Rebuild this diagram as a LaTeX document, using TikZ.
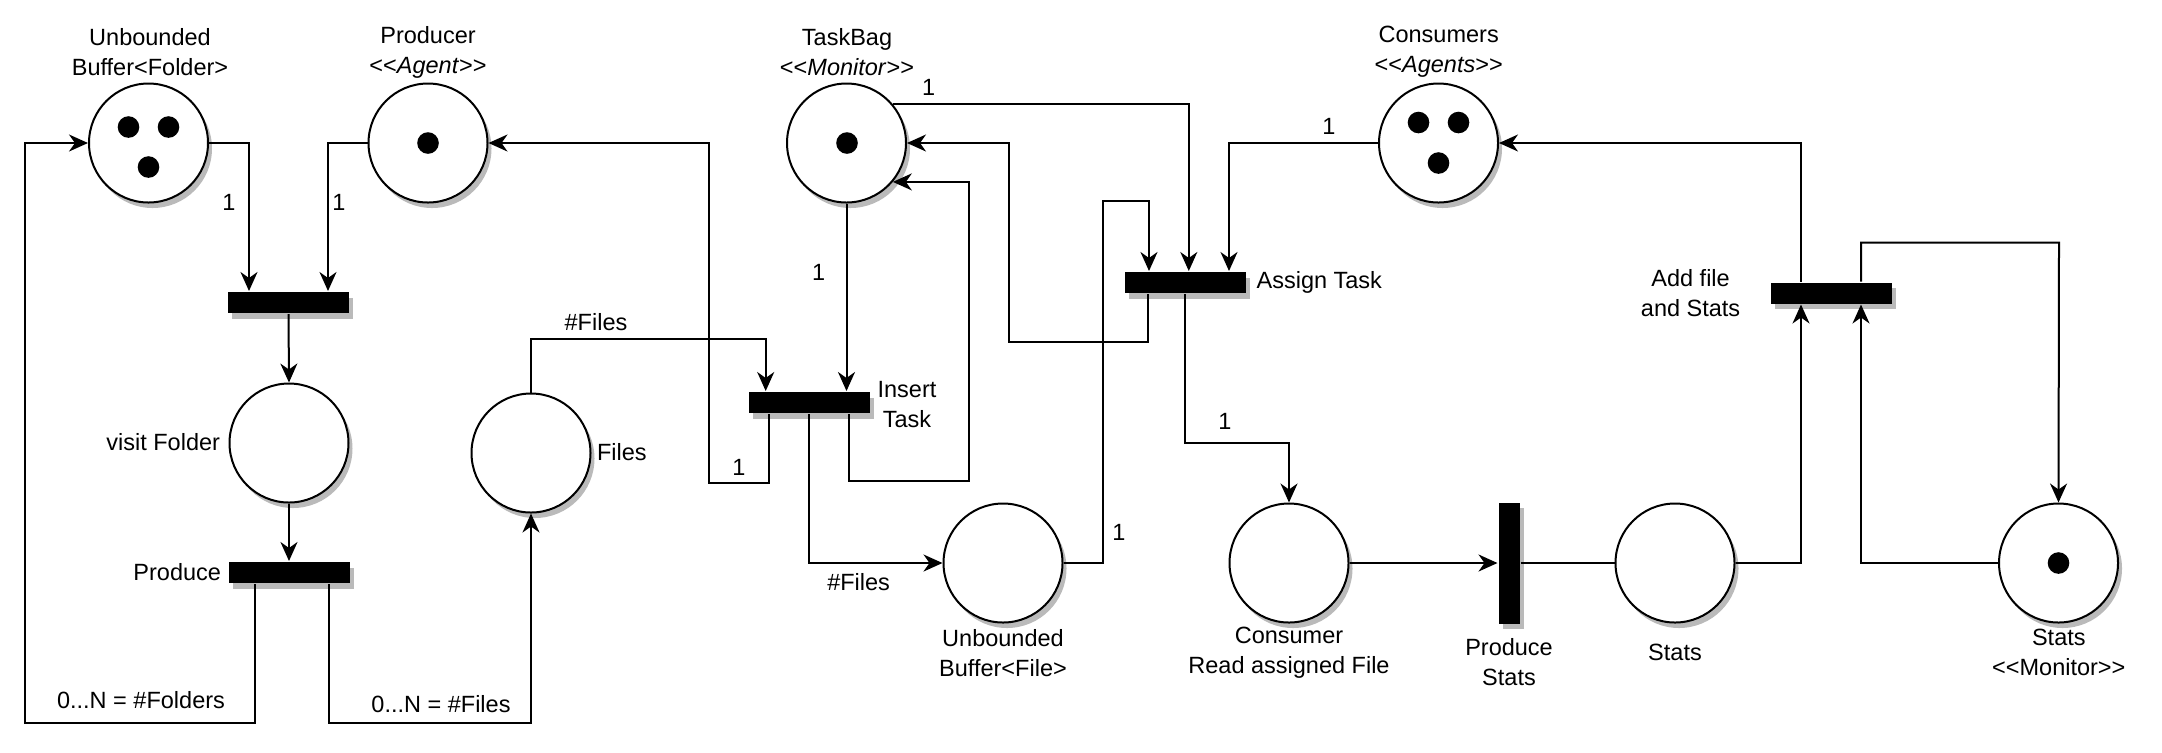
\documentclass[tikz,border=0pt]{standalone}
\usepackage{fontspec}
\setmainfont{Liberation Sans}
\usetikzlibrary{arrows.meta,shadows}
\newcommand\LLt{<\kern0pt<}
\newcommand\GGt{>\kern0pt>}
\begin{document}
\begin{tikzpicture}[x=0.5pt,y=-0.5pt, line width=1pt,
  shad/.style={drop shadow={shadow xshift=2pt, shadow yshift=-2.75pt, fill=black!27, opacity=1}},
  place/.style={circle, draw, fill=white, minimum size=59.5pt, inner sep=0pt, shad},
  trans/.style={rectangle, fill=black, minimum width=60.5pt, minimum height=10.5pt, inner sep=0pt, shad},
  vtrans/.style={trans, minimum width=10.5pt, minimum height=60.5pt},
  token/.style={circle, fill=black, minimum size=10.8pt, inner sep=0pt},
  arr/.style={-{Stealth[length=9.5pt,width=8.5pt,inset=3pt]}},
  lab/.style={font=\fontsize{11.75}{15}\selectfont, inner sep=0pt, align=center}
]
\useasboundingbox (0,0) rectangle (2162,752);
% places
\node[place] (bf) at (148.5,143) {};
\node[place] (prod) at (428,143) {};
\node[place] (visit) at (289,443) {};
\node[place] (files) at (531,453) {};
\node[place] (tb) at (846.5,143) {};
\node[place] (cons) at (1438.5,143) {};
\node[place] (bfile) at (1003,563) {};
\node[place] (consumer) at (1289,563) {};
\node[place] (stats) at (1675,563) {};
\node[place] (smon) at (2058.5,563) {};
% tokens
\node[token] (bft1) at (128.5,127) {};
\node[token] (bft2) at (168.5,127) {};
\node[token] (bft3) at (148.5,167) {};
\node[token] (prodt) at (428,143) {};
\node[token] (tbt) at (847,143) {};
\node[token] (const1) at (1418.5,122.5) {};
\node[token] (const2) at (1458.5,122.5) {};
\node[token] (const3) at (1438.5,163) {};
\node[token] (smont) at (2058.5,563) {};
% transitions
\node[trans] (t1) at (288.5,302.5) {};
\node[trans] (produce) at (289,572.5) {};
\node[trans] (insert) at (809,402.5) {};
\node[trans] (assign) at (1185,282.5) {};
\node[vtrans] (pstats) at (1509,563) {};
\node[trans] (addfile) at (1831,293) {};
% labels
\node[lab] (lbf) at (150,52) {Unbounded\\Buffer<Folder>};
\node[lab] (lprod) at (428,52) {Producer\\\LLt\textit{Agent}\GGt};
\node[lab] (ltb) at (847,52) {TaskBag\\\LLt\textit{Monitor}\GGt};
\node[lab] (lcons) at (1438.7,52) {Consumers\\\LLt\textit{Agents}\GGt};
\node[lab, anchor=east] (lvisit) at (221,442) {visit Folder};
\node[lab, anchor=east] (lproduce) at (222,572) {Produce};
\node[lab, anchor=west] (lfiles) at (596,452) {Files};
\node[lab] (linsert) at (907,404.5) {Insert\\Task};
\node[lab, anchor=west] (lassign) at (1255.6,282.7) {Assign Task};
\node[lab] (lbfile) at (1003,652.7) {Unbounded\\Buffer<File>};
\node[lab] (lconsumer) at (1289,652.7) {Consumer\\Read assigned File};
\node[lab] (lpstats) at (1509,662.2) {Produce\\Stats};
\node[lab] (lstats) at (1675,652.3) {Stats};
\node[lab] (laddfile) at (1690.6,292.8) {Add file\\and Stats};
\node[lab] (lsmon) at (2058.8,652.7) {Stats\\\LLt Monitor\GGt};
% connectors
\draw[arr] (bf.east) -| (t1.north -| 249,0);
\draw[arr] (prod.west) -| (t1.north -| 328,0);
\draw[arr] (t1.south) -- (visit.north);
\draw[arr] (visit.south) -- (produce.north);
\draw[arr] (produce.south -| 255,0) -- (255,723) -- (25,723) -- (25,143) -- (bf.west);
\draw[arr] (produce.south -| 328.6,0) -- (328.6,723) -- (531,723) -- (files.south);
\draw[arr] (files.north) -- (531,339) -- (765.7,339) -- (insert.north -| 765.7,0);
\draw[arr] (tb.south) -- (tb.south |- insert.north);
\draw[arr] (insert.south -| 768.6,0) -- (768.6,483) -- (708.6,483) -- (708.6,143) -- (prod.east);
\draw[arr] (insert.south -| 808.6,0) -- (808.6,563) -- (bfile.west);
\draw[arr] (insert.south -| 849,0) -- (849,481) -- (968.6,481) -- (968.6,0 |- tb.-40) -- (tb.-40);
\draw[arr] (tb.40) -- (1188.8,0 |- tb.40) -- (assign.north -| 1188.8,0);
\draw[arr] (bfile.east) -- (1103.4,563) -- (1103.4,200.7) -- (1149,200.7) -- (assign.north -| 1149,0);
\draw[arr] (cons.west) -| (assign.north -| 1229,0);
\draw[arr] (assign.south -| 1148,0) -- (1148,342) -- (1008.9,342) -- (1008.9,143) -- (tb.east);
\draw[arr] (assign.south) -- (1185,442.7) -- (1289,442.7) -- (consumer.north);
\draw[arr] (consumer.east) -- (pstats.west);
\draw (pstats.east) -- (stats.west);
\draw[arr] (stats.east) -| (addfile.south -| 1801,0);
\draw[arr] (smon.west) -| (addfile.south -| 1861,0);
\draw[arr] (addfile.north -| 1801,0) |- (cons.east);
\draw[arr] (addfile.north -| 1861,0) -- (1861,242.7) -- (2059,242.7) -- (smon.north);
% edge labels
\node[lab] (e1) at (229,202) {1};
\node[lab] (e2) at (339,202) {1};
\node[lab] (e3) at (141,700) {0...N = \#Folders};
\node[lab] (e4) at (441,704) {0...N = \#Files};
\node[lab] (e5) at (596,322) {\#Files};
\node[lab] (e6) at (818.6,272) {1};
\node[lab] (e7) at (739,467) {1};
\node[lab] (e8) at (858.6,582) {\#Files};
\node[lab] (e9) at (928.6,87) {1};
\node[lab] (e10) at (1119,532) {1};
\node[lab] (e11) at (1328.8,126) {1};
\node[lab] (e12) at (1225,421.7) {1};
\end{tikzpicture}
\end{document}
